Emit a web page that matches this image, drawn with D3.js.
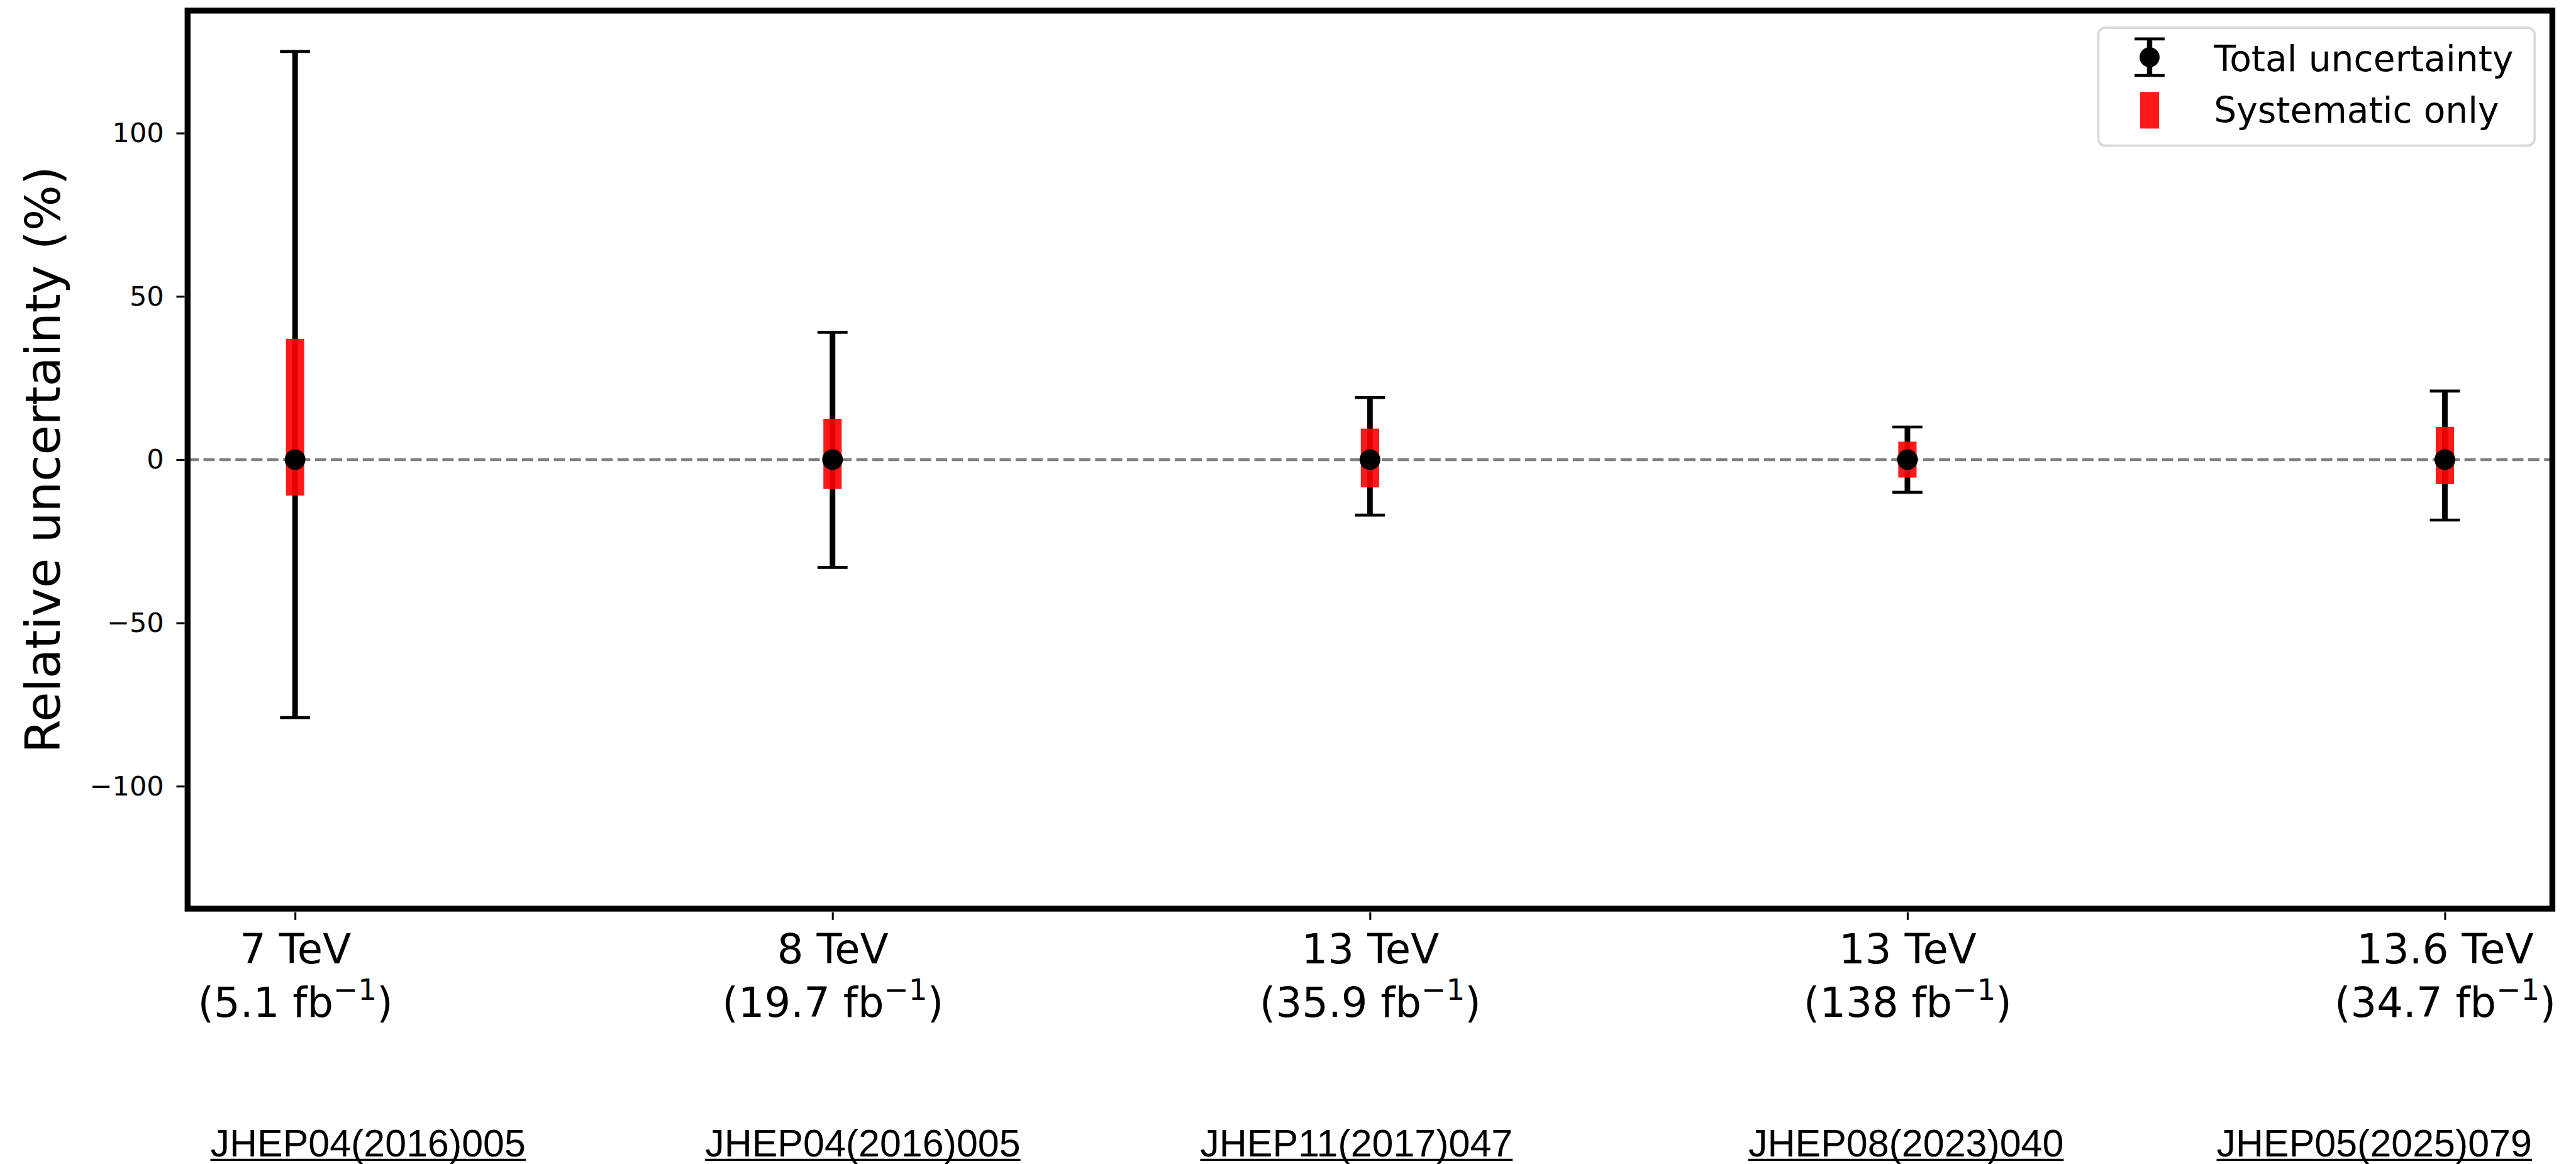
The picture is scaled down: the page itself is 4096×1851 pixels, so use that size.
<!DOCTYPE html>
<html>
<head>
<meta charset="utf-8">
<script src="https://cdn.jsdelivr.net/npm/d3@7"></script>
<style>
  html, body { margin: 0; padding: 0; background: #ffffff; }
  svg { display: block; }
</style>
</head>
<body>
<div id="chart"></div>
<script>
// Relative uncertainty of the measurement per LHC run (in %)
const energies   = ["7 TeV", "8 TeV", "13 TeV", "13 TeV", "13.6 TeV"];
const lumis      = ["5.1", "19.7", "35.9", "138", "34.7"];
const totalUp    = [125, 39, 19, 10, 21];
const totalDown  = [79, 33, 17, 10, 18.5];
const systUp     = [37, 12.5, 9.5, 5.5, 10];
const systDown   = [11, 9, 8.5, 5.5, 7.5];
const references = ["JHEP04(2016)005", "JHEP04(2016)005", "JHEP11(2017)047",
                    "JHEP08(2023)040", "JHEP05(2025)079"];
const yTickValues = [-100, -50, 0, 50, 100];

// Layout (drawn in a 4368 x 1974 coordinate space, scaled to the window by the viewBox)
const W = 4368, H = 1974;
const frame = { left: 318, right: 4328, top: 18, bottom: 1541 };
const refCenters = [624, 1463, 2300, 3232, 4026];   // horizontal centres of the reference labels
const mainFont = "'DejaVu Sans', sans-serif";
const refFont = "'Liberation Sans', Arial, Helvetica, sans-serif";

const svg = d3.select("#chart").append("svg")
  .attr("width", 4096).attr("height", 1851)
  .attr("viewBox", `0 0 ${W} ${H}`);

const x = d3.scaleLinear().domain([-0.2, energies.length - 1 + 0.2]).range([frame.left, frame.right]);
const ymax = 1.1 * d3.max(totalUp);
const y = d3.scaleLinear().domain([-ymax, ymax]).range([frame.bottom, frame.top]);

const data = energies.map((e, i) => ({
  i, energy: e, lumi: lumis[i],
  tUp: totalUp[i], tDown: totalDown[i], sUp: systUp[i], sDown: systDown[i]
}));

// zero reference line
svg.append("line")
  .attr("x1", frame.left).attr("x2", frame.right)
  .attr("y1", y(0)).attr("y2", y(0))
  .attr("stroke", "#808080").attr("stroke-width", 5)
  .attr("stroke-dasharray", "19,8");

// total uncertainty error bars
const bars = svg.append("g").selectAll("g").data(data).join("g");
bars.append("line")
  .attr("x1", d => x(d.i)).attr("x2", d => x(d.i))
  .attr("y1", d => y(d.tUp)).attr("y2", d => y(-d.tDown))
  .attr("stroke", "#000").attr("stroke-width", 9.5);
const capHalf = 25.5;
bars.append("line")
  .attr("x1", d => x(d.i) - capHalf).attr("x2", d => x(d.i) + capHalf)
  .attr("y1", d => y(d.tUp)).attr("y2", d => y(d.tUp))
  .attr("stroke", "#000").attr("stroke-width", 5);
bars.append("line")
  .attr("x1", d => x(d.i) - capHalf).attr("x2", d => x(d.i) + capHalf)
  .attr("y1", d => y(-d.tDown)).attr("y2", d => y(-d.tDown))
  .attr("stroke", "#000").attr("stroke-width", 5);

// systematic-only bands
const boxW = 31;
bars.append("rect")
  .attr("x", d => x(d.i) - boxW / 2).attr("width", boxW)
  .attr("y", d => y(d.sUp)).attr("height", d => y(-d.sDown) - y(d.sUp))
  .attr("fill", "rgb(255,0,0)").attr("fill-opacity", 0.9);

// central values
bars.append("circle")
  .attr("cx", d => x(d.i)).attr("cy", y(0)).attr("r", 17.5)
  .attr("fill", "#000");

// y axis
const yAxis = d3.axisLeft(y).tickValues(yTickValues).tickSize(14).tickPadding(21)
  .tickFormat(d => d < 0 ? "\u2212" + Math.abs(d) : String(d));
const gy = svg.append("g").attr("transform", `translate(${frame.left - 5},0)`).call(yAxis);
gy.select(".domain").remove();
gy.selectAll(".tick line").attr("stroke", "#000").attr("stroke-width", 3.3);
gy.selectAll(".tick text")
  .attr("font-family", mainFont).attr("font-size", 46).attr("fill", "#000");

// x axis
const xAxis = d3.axisBottom(x).tickValues(data.map(d => d.i)).tickSize(13).tickFormat("");
const gx = svg.append("g").attr("transform", `translate(0,${frame.bottom + 6})`).call(xAxis);
gx.select(".domain").remove();
gx.selectAll(".tick line").attr("stroke", "#000").attr("stroke-width", 3.3);
gx.selectAll(".tick").each(function (d) {
  const t = d3.select(this).append("text")
    .attr("font-family", mainFont).attr("font-size", 70).attr("fill", "#000")
    .attr("text-anchor", "middle");
  t.append("tspan").attr("x", 0).attr("y", 87).text(data[d].energy);
  const l2 = t.append("tspan").attr("x", 0).attr("y", 177);
  l2.append("tspan").text("(" + data[d].lumi + " fb");
  l2.append("tspan").attr("font-size", 50).attr("dy", -28).text("\u22121");
  l2.append("tspan").attr("dy", 28).text(")");
});

// axes frame
svg.append("rect")
  .attr("x", frame.left).attr("y", frame.top)
  .attr("width", frame.right - frame.left).attr("height", frame.bottom - frame.top)
  .attr("fill", "none").attr("stroke", "#000").attr("stroke-width", 10);

// y axis title
svg.append("text")
  .attr("transform", `translate(101,${(frame.top + frame.bottom) / 2}) rotate(-90)`)
  .attr("text-anchor", "middle")
  .attr("font-family", mainFont).attr("font-size", 82).attr("fill", "#000")
  .text("Relative uncertainty (%)");

// legend
const lg = svg.append("g");
lg.append("rect")
  .attr("x", 3558).attr("y", 47).attr("width", 740).attr("height", 200).attr("rx", 12)
  .attr("fill", "#fff").attr("fill-opacity", 0.8)
  .attr("stroke", "#d9d9d9").attr("stroke-width", 4);
const lx = 3645;
lg.append("line").attr("x1", lx).attr("x2", lx).attr("y1", 66).attr("y2", 128)
  .attr("stroke", "#000").attr("stroke-width", 9);
lg.append("line").attr("x1", lx - capHalf).attr("x2", lx + capHalf).attr("y1", 66).attr("y2", 66)
  .attr("stroke", "#000").attr("stroke-width", 5);
lg.append("line").attr("x1", lx - capHalf).attr("x2", lx + capHalf).attr("y1", 128).attr("y2", 128)
  .attr("stroke", "#000").attr("stroke-width", 5);
lg.append("circle").attr("cx", lx).attr("cy", 97).attr("r", 17).attr("fill", "#000");
lg.append("rect").attr("x", lx - 16).attr("y", 156).attr("width", 32).attr("height", 62)
  .attr("fill", "rgb(255,0,0)").attr("fill-opacity", 0.9);
lg.append("text").attr("x", 3754).attr("y", 120)
  .attr("font-family", mainFont).attr("font-size", 60.5).attr("fill", "#000")
  .text("Total uncertainty");
lg.append("text").attr("x", 3754).attr("y", 208)
  .attr("font-family", mainFont).attr("font-size", 60.5).attr("fill", "#000")
  .text("Systematic only");

// publication references, underlined
const refG = svg.append("g").selectAll("g").data(references).join("g")
  .attr("transform", (d, i) => `translate(${refCenters[i]},1961)`);
refG.append("text")
  .attr("text-anchor", "middle")
  .attr("font-family", refFont).attr("font-size", 65).attr("fill", "#000")
  .text(d => d);
refG.each(function () {
  const g = d3.select(this);
  const w = g.select("text").node().getComputedTextLength();
  g.append("line").attr("x1", -w / 2).attr("x2", w / 2).attr("y1", 6).attr("y2", 6)
    .attr("stroke", "#000").attr("stroke-width", 3.5);
});
</script>
</body>
</html>
